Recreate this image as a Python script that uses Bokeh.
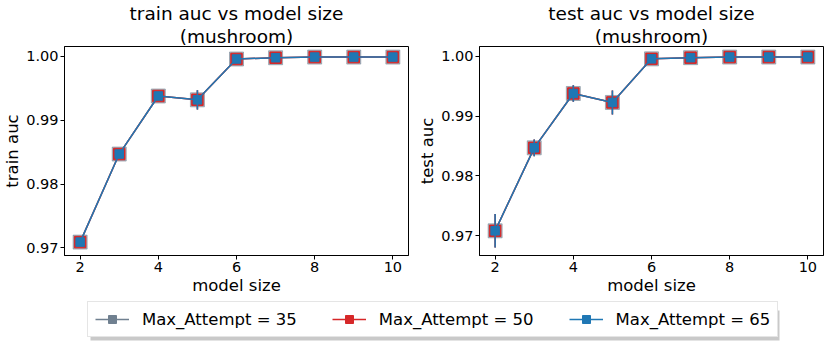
import math
from bokeh.plotting import figure
from bokeh.models import (Range1d, FixedTicker, NumeralTickFormatter, Title, Legend,
                          LegendItem, ColumnDataSource)
from bokeh.layouts import column, row
from bokeh.embed import file_html
from bokeh.resources import INLINE

# ---------------- data ----------------
model_size = [2, 3, 4, 5, 6, 7, 8, 9, 10]
max_attempts = [35, 50, 65]
train_auc = [0.9709, 0.9847, 0.9938, 0.9932, 0.9996, 0.9998, 0.9999, 0.9999, 0.9999]
train_err = [0.0002, 0.0003, 0.0003, 0.0015, 0.0002, 0.0001, 0.0001, 0.0001, 0.0001]
test_auc = [0.9708, 0.9847, 0.9938, 0.9923, 0.9996, 0.9998, 0.9999, 0.9999, 0.9999]
test_err = [0.0028, 0.0014, 0.0014, 0.0020, 0.0002, 0.0001, 0.0001, 0.0001, 0.0001]
x_ticks = [2, 4, 6, 8, 10]
y_ticks = [0.97, 0.98, 0.99, 1.00]

FONT = "DejaVu Sans"
styles = {
    35: dict(color="#708090", size=14, alpha=0.55, lw=1.5),
    50: dict(color="#d62728", size=11.5, alpha=1.0, lw=1.5),
    65: dict(color="#1f77b4", size=8.5, alpha=1.0, lw=1.5),
}


def make_fig(title, subtitle, ylabel, means, errs, yr):
    p = figure(width=415, height=300, output_backend="svg", toolbar_location=None,
               x_range=Range1d(1.6, 10.4), y_range=Range1d(*yr),
               min_border_left=63, min_border_right=7,
               min_border_top=45, min_border_bottom=45)
    p.title = None
    p.add_layout(Title(text=subtitle, align="center", text_font=FONT,
                       text_font_size="18.5px", text_font_style="normal",
                       text_color="black", standoff=0), "above")
    p.add_layout(Title(text=title, align="center", text_font=FONT,
                       text_font_size="18.5px", text_font_style="normal",
                       text_color="black", standoff=0), "above")
    for a in max_attempts:
        s = styles[a]
        lo = [m - e for m, e in zip(means, errs)]
        hi = [m + e for m, e in zip(means, errs)]
        src = ColumnDataSource(dict(x=model_size, y=means, lo=lo, hi=hi))
        p.line("x", "y", source=src, line_color=s["color"], line_width=s["lw"],
               line_alpha=s["alpha"])
        p.segment(x0="x", y0="lo", x1="x", y1="hi", source=src,
                  line_color=s["color"], line_width=s["lw"], line_alpha=s["alpha"])
        p.scatter("x", "y", source=src, marker="square", size=s["size"],
                  fill_color=s["color"], line_color=s["color"],
                  fill_alpha=s["alpha"], line_alpha=s["alpha"])
    p.xaxis.ticker = FixedTicker(ticks=x_ticks)
    p.yaxis.ticker = FixedTicker(ticks=y_ticks)
    p.yaxis.formatter = NumeralTickFormatter(format="0.00")
    for ax in (p.xaxis[0], p.yaxis[0]):
        ax.major_label_text_font = FONT
        ax.major_label_text_font_size = "14.5px"
        ax.major_label_text_color = "black"
        ax.axis_label_text_font = FONT
        ax.axis_label_text_font_size = "16.5px"
        ax.axis_label_text_font_style = "normal"
        ax.axis_label_text_color = "black"
        ax.axis_line_color = "black"
        ax.major_tick_line_color = "black"
        ax.major_tick_in = 0
        ax.major_tick_out = 4
        ax.minor_tick_line_color = None
        ax.major_label_standoff = 2
        ax.axis_label_standoff = 1
    p.xaxis.axis_label = "model size"
    p.yaxis.axis_label = ylabel
    p.xgrid.grid_line_color = None
    p.ygrid.grid_line_color = None
    p.outline_line_color = "black"
    p.outline_line_alpha = 1.0
    p.outline_line_width = 1
    return p


p1 = make_fig("train auc vs model size", "(mushroom)", "train auc", train_auc, train_err,
              (0.9688, 1.00156))
p2 = make_fig("test auc vs model size", "(mushroom)", "test auc", test_auc, test_err,
              (0.96667, 1.00167))

# ---------------- legend strip ----------------
pl = figure(width=830, height=43, output_backend="svg", toolbar_location=None,
            x_range=Range1d(0, 830), y_range=Range1d(0, 43),
            x_axis_location=None, y_axis_location=None,
            min_border_left=0, min_border_right=0, min_border_top=0, min_border_bottom=0)
pl.xgrid.grid_line_color = None
pl.ygrid.grid_line_color = None
pl.outline_line_color = None
# legend drop shadow (decoration)
pl.quad(left=[90], right=[779], bottom=[3], top=[33], fill_color="#888888",
        fill_alpha=0.45, line_color=None)
leg_sizes = {35: 11, 50: 11, 65: 7}
items = []
for a in max_attempts:
    c = styles[a]["color"]
    r1 = pl.line([-10, -9], [-10, -9], line_color=c, line_width=1.5)
    r2 = pl.scatter([-10], [-10], marker="dash", angle=math.pi / 2, size=16,
                    line_color=c, line_width=1.5)
    r3 = pl.scatter([-10], [-10], marker="square", size=leg_sizes[a],
                    fill_color=c, line_color=c)
    items.append(LegendItem(label=f"Max_Attempt = {a}", renderers=[r1, r2, r3]))

legend = Legend(items=items, orientation="horizontal", location=(87, 6),
                label_text_font=FONT, label_text_font_size="16.5px",
                label_text_color="black",
                glyph_width=34, glyph_height=20, label_standoff=13, spacing=35,
                padding=7, margin=0, border_line_color="#cccccc",
                border_line_width=1, background_fill_color="white",
                background_fill_alpha=1.0)
pl.add_layout(legend, "center")

layout = column(row(p1, p2), pl)
open("out.html", "w").write(file_html(layout, INLINE))
